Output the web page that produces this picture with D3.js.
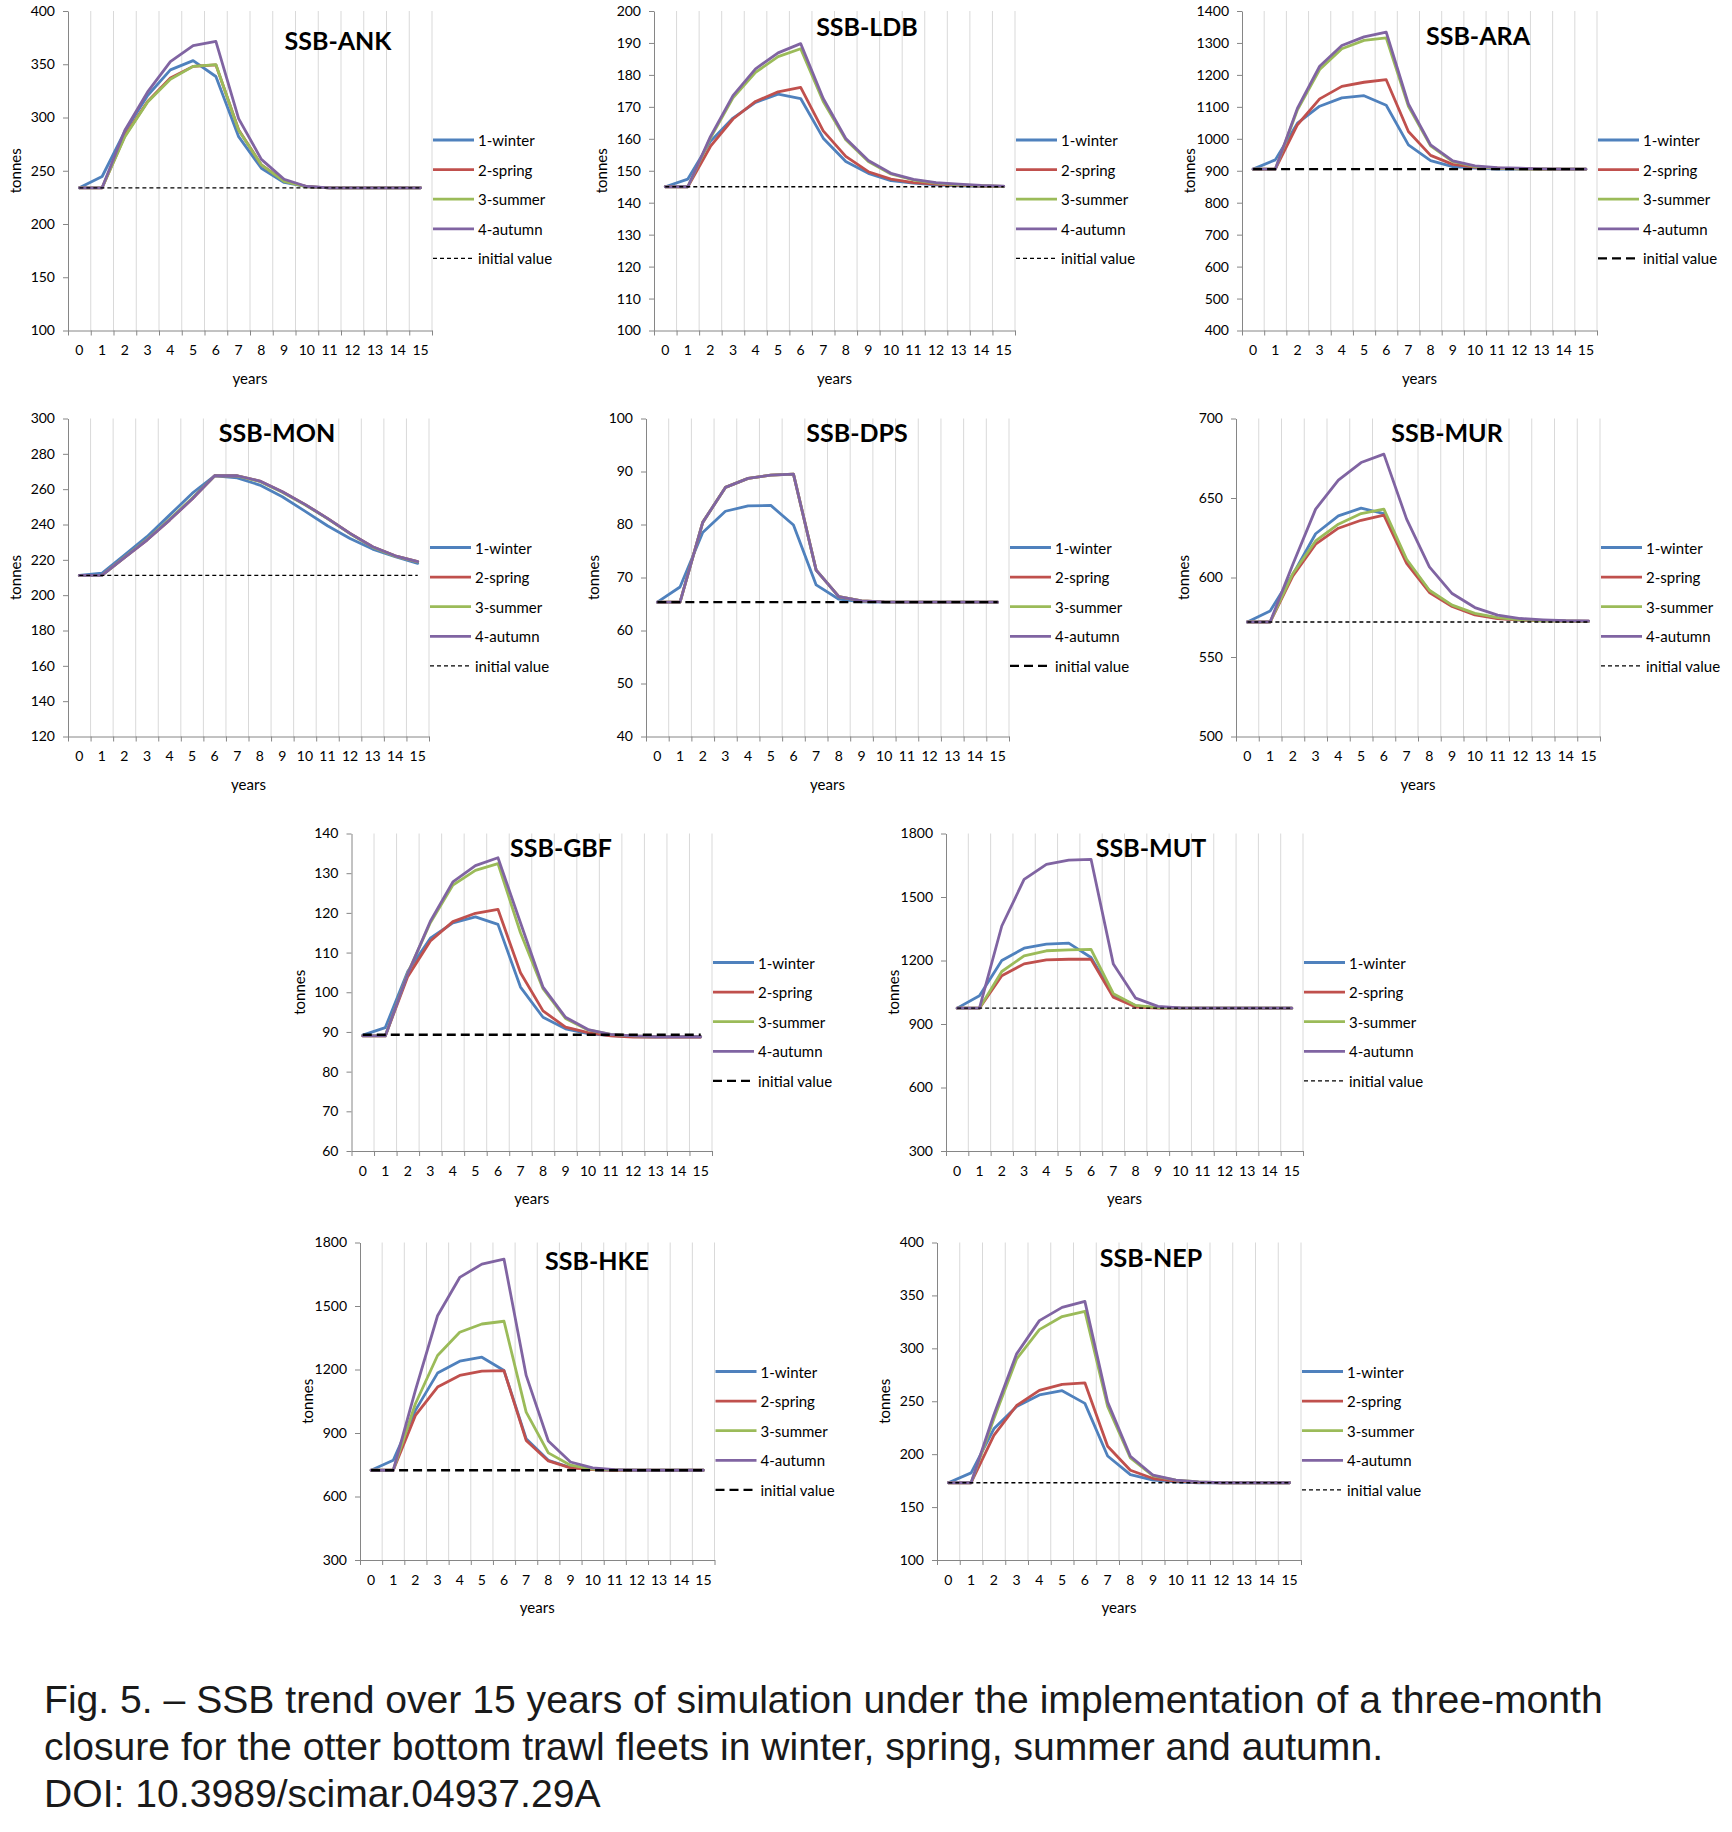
<!DOCTYPE html>
<html><head><meta charset="utf-8">
<script src="https://cdn.jsdelivr.net/npm/d3@7"></script>
<style>
body{margin:0;background:#fff;}
</style></head><body>
<svg id="chart" width="1732" height="1832" xmlns="http://www.w3.org/2000/svg"></svg>
<script>
// ---------------- DATA ----------------
const years = [0,1,2,3,4,5,6,7,8,9,10,11,12,13,14,15];
const seasons = ["1-winter","2-spring","3-summer","4-autumn"];
const initialLabel = "initial value";
const yLabel = "tonnes";
const xLabel = "years";
const captionLines = [
  "Fig. 5. \u2013 SSB trend over 15 years of simulation under the implementation of a three-month",
  "closure for the otter bottom trawl fleets in winter, spring, summer and autumn.",
  "DOI: 10.3989/scimar.04937.29A"
];

// SSB-ANK
const ANK_ticks = [100,150,200,250,300,350,400];
const ANK_initial = 234;
const ANK_series = [
  [234,244.6,287,320.7,344.7,353.4,338.5,282,252.3,239,235,234,234,234,234,234],
  [234,234,283,315,337,348,349.5,288.5,255.5,240.5,235,234,234,234,234,234],
  [234,234,282,314.5,336,348,349.7,288,255.5,240,234.8,234,234,234,234,234],
  [234,234,288,324,352.5,367.4,371.4,299,260.7,242,235.2,234,234,234,234,234]
];
// SSB-LDB
const LDB_ticks = [100,110,120,130,140,150,160,170,180,190,200];
const LDB_initial = 145;
const LDB_series = [
  [145,147.4,159.2,166.5,171.4,174,172.6,160.2,152.9,149.2,146.9,146.1,145.6,145.3,145.1,145],
  [145,145,157.6,166.2,171.7,174.7,176.1,162.5,154.5,149.7,147.4,146.3,145.8,145.4,145.2,145.1],
  [145,145,160.2,172.8,180.8,185.7,188.2,171.7,159.7,152.9,149,147.1,146.1,145.6,145.3,145.1],
  [145,145,160.7,173.5,181.9,186.9,189.8,172.6,160.1,153.2,149.2,147.3,146.3,145.8,145.4,145.2]
];
// SSB-ARA
const ARA_ticks = [400,500,600,700,800,900,1000,1100,1200,1300,1400];
const ARA_initial = 905;
const ARA_series = [
  [905,934,1049,1102,1128,1135,1105,981,932,913,908,905,905,905,905,905],
  [905,905,1044,1125,1164,1177,1185,1023,948,920,911,908,906,905,905,905],
  [905,905,1091,1217,1282,1308,1316,1102,978,929,913,908,906,905,905,905],
  [905,905,1096,1227,1292,1319,1334,1109,981,931,915,910,908,906,905,905]
];
// SSB-MON
const MON_ticks = [120,140,160,180,200,220,240,260,280,300];
const MON_initial = 211.2;
const MON_series = [
  [211.2,212.4,222.7,233.1,245.3,257.6,267.6,266.4,262.3,255.7,247.6,239.3,232.1,226.1,221.8,218],
  [211.2,211.2,221.2,231.2,242.5,254.4,267.6,267.6,264.6,258.5,251.4,243.5,235,227.4,222.3,219],
  [211.2,211.2,221.4,231.5,243,254.8,267.5,267.5,264.4,258.3,251.2,243.3,234.8,227.2,222.1,218.8],
  [211.2,211.2,221.2,231.2,242.5,254.4,267.6,267.6,264.6,258.5,251.4,243.5,235,227.4,222.3,219]
];
// SSB-DPS
const DPS_ticks = [40,50,60,70,80,90,100];
const DPS_initial = 65.35;
const DPS_series = [
  [65.35,68.2,78.5,82.5,83.5,83.6,79.9,68.6,65.9,65.4,65.35,65.35,65.35,65.35,65.35,65.35],
  [65.35,65.35,80.4,87.0,88.7,89.3,89.5,71.4,66.4,65.6,65.4,65.35,65.35,65.35,65.35,65.35],
  [65.35,65.35,80.4,87.0,88.7,89.3,89.5,71.4,66.4,65.6,65.4,65.35,65.35,65.35,65.35,65.35],
  [65.35,65.35,80.4,87.0,88.7,89.3,89.5,71.4,66.4,65.6,65.4,65.35,65.35,65.35,65.35,65.35]
];
// SSB-MUR
const MUR_ticks = [500,550,600,650,700];
const MUR_initial = 572;
const MUR_series = [
  [572,579,602,627.5,638.8,643.6,640.2,610.5,591.6,582.2,576.9,574.4,573.2,572.7,572.5,572.5],
  [572,572,601,621,631,636,639.2,608.8,590.6,581.8,576.5,574.2,573.2,572.7,572.5,572.5],
  [572,572,602.5,623,633.5,640.2,643,611.5,592,582.6,577.4,574.8,573.4,572.8,572.5,572.4],
  [572,572,608.4,643,661.2,672.3,677.6,636.7,606.7,589.9,581.1,576.3,574.2,573.4,572.8,572.6]
];
// SSB-GBF
const GBF_ticks = [60,70,80,90,100,110,120,130,140];
const GBF_initial = 89.3;
const GBF_series = [
  [89.2,91.1,105.3,113.6,117.5,119,117.1,101.3,93.7,90.8,89.6,89.1,88.8,88.7,88.7,88.7],
  [89,89,104,112.9,117.8,119.9,120.9,104.9,95.3,91.2,89.8,89,88.7,88.7,88.7,88.7],
  [89,89,104.9,117.5,127,130.7,132.4,115,100.9,93.4,90.5,89.4,89,88.8,88.8,88.8],
  [89,89,104.7,117.9,127.8,131.9,133.9,117.5,101.3,93.7,90.6,89.4,89,88.8,88.8,88.8]
];
// SSB-MUT
const MUT_ticks = [300,600,900,1200,1500,1800];
const MUT_initial = 975;
const MUT_series = [
  [975,1033,1200,1258,1277,1282,1214,1038,986,976,975,975,975,975,975,975],
  [975,975,1128,1184,1203,1206,1206,1026,980,975,975,975,975,975,975,975],
  [975,975,1148,1222,1246,1250,1253,1043,988,977,975,975,975,975,975,975],
  [975,975,1363,1583,1654,1674,1678,1183,1022,983,976,975,975,975,975,975]
];
// SSB-HKE
const HKE_ticks = [300,600,900,1200,1500,1800];
const HKE_initial = 724;
const HKE_series = [
  [724,771,1007,1183,1239,1258,1195,873,771,737,727,724,724,724,724,724],
  [724,724,983,1117,1172,1192,1195,865,768,735,727,724,724,724,724,724],
  [724,724,1038,1266,1376,1415,1428,999,806,748,729,726,724,724,724,724],
  [724,724,1101,1454,1635,1698,1721,1172,862,763,735,727,724,724,724,724]
];
// SSB-NEP
const NEP_ticks = [100,150,200,250,300,350,400];
const NEP_initial = 173;
const NEP_series = [
  [173,182.3,224,245,256,260,248,198.3,180.7,175.4,173.8,173,173,173,173,173],
  [173,173,217.8,246,260.2,265.9,267.4,207.4,184.8,177,174.5,173.4,173,173,173,173],
  [173,173,233.5,290,317.7,330,335,245,196.4,179.5,175.4,173.8,173,173,173,173],
  [173,173,237.3,294.8,326.2,338.7,344.4,249.2,198,180.1,175.4,173.8,173,173,173,173]
];

// table built from the named arrays
const table = {
  ANK:{title:"SSB-ANK",ticks:ANK_ticks,initial:ANK_initial,series:ANK_series},
  LDB:{title:"SSB-LDB",ticks:LDB_ticks,initial:LDB_initial,series:LDB_series},
  ARA:{title:"SSB-ARA",ticks:ARA_ticks,initial:ARA_initial,series:ARA_series},
  MON:{title:"SSB-MON",ticks:MON_ticks,initial:MON_initial,series:MON_series},
  DPS:{title:"SSB-DPS",ticks:DPS_ticks,initial:DPS_initial,series:DPS_series},
  MUR:{title:"SSB-MUR",ticks:MUR_ticks,initial:MUR_initial,series:MUR_series},
  GBF:{title:"SSB-GBF",ticks:GBF_ticks,initial:GBF_initial,series:GBF_series},
  MUT:{title:"SSB-MUT",ticks:MUT_ticks,initial:MUT_initial,series:MUT_series},
  HKE:{title:"SSB-HKE",ticks:HKE_ticks,initial:HKE_initial,series:HKE_series},
  NEP:{title:"SSB-NEP",ticks:NEP_ticks,initial:NEP_initial,series:NEP_series}
};

// ---------------- LAYOUT / STYLE ----------------
const colors = ["#4F81BD","#C0504D","#9BBB59","#8064A2"];
const dashStyles = {
  short:{dash:"4,3", width:1.3},
  long:{dash:"9,5", width:2.4}
};
const layout = [
  {key:"ANK", x0:68,  x1:432,  yT:11,    yB:330.5, tx:338,  ty:40,   dash:"short"},
  {key:"LDB", x0:654, x1:1015, yT:11,    yB:330.5, tx:867,  ty:26,   dash:"short"},
  {key:"ARA", x0:1242,x1:1597, yT:11,    yB:330.5, tx:1478, ty:35,   dash:"long"},
  {key:"MON", x0:68,  x1:429,  yT:418.5, yB:736.5, tx:277,  ty:432,  dash:"short"},
  {key:"DPS", x0:646, x1:1009, yT:418.5, yB:736.5, tx:857,  ty:432,  dash:"long"},
  {key:"MUR", x0:1236,x1:1600, yT:418.5, yB:736.5, tx:1447, ty:432,  dash:"short"},
  {key:"GBF", x0:351.5,x1:712, yT:833.5, yB:1151,  tx:561,  ty:847,  dash:"long"},
  {key:"MUT", x0:946, x1:1303, yT:833.5, yB:1151,  tx:1151, ty:847,  dash:"short"},
  {key:"HKE", x0:360, x1:714.5,yT:1242.5,yB:1560,  tx:597,  ty:1260, dash:"long"},
  {key:"NEP", x0:937, x1:1301, yT:1242.5,yB:1560,  tx:1151, ty:1257, dash:"short"}
];
const FONT = "Lato, 'Open Sans', 'DejaVu Sans', sans-serif";
const axisColor = "#868686";
const gridColor = "#D9D9D9";

const svg = d3.select("#chart");

layout.forEach(p => {
  const d = table[p.key];
  const g = svg.append("g");
  const x = d3.scaleBand().domain(years).range([p.x0, p.x1]).paddingInner(0).paddingOuter(0);
  const xb = d3.scaleLinear().domain([0, years.length]).range([p.x0, p.x1]);
  const y = d3.scaleLinear().domain(d3.extent(d.ticks)).range([p.yB, p.yT]);
  const cx = v => x(v) + x.bandwidth()/2;

  // vertical gridlines at category boundaries
  g.append("g").selectAll("line").data(years.map((v,i)=>i+1)).join("line")
    .attr("x1", i=>xb(i)).attr("x2", i=>xb(i))
    .attr("y1", p.yT).attr("y2", p.yB)
    .attr("stroke", gridColor).attr("stroke-width", 1);

  // y axis
  const ya = g.append("g").attr("transform", `translate(${p.x0},0)`)
    .call(d3.axisLeft(y).tickValues(d.ticks).tickSize(5).tickSizeOuter(0).tickPadding(8).tickFormat(d3.format("d")));
  ya.attr("font-family", FONT).attr("font-size", 14);
  ya.select(".domain").attr("stroke", axisColor);
  ya.selectAll(".tick line").attr("stroke", axisColor);
  ya.selectAll(".tick text").attr("fill", "#000");

  // x axis tick marks at boundaries
  const xt = g.append("g").attr("transform", `translate(0,${p.yB})`)
    .call(d3.axisBottom(xb).tickValues([0].concat(years.map((v,i)=>i+1))).tickSize(5).tickSizeOuter(0).tickFormat(""));
  xt.select(".domain").attr("stroke", axisColor);
  xt.selectAll(".tick line").attr("stroke", axisColor);

  // x axis labels at category centers
  const xl = g.append("g").attr("transform", `translate(0,${p.yB})`)
    .call(d3.axisBottom(x).tickSize(0).tickPadding(15));
  xl.attr("font-family", FONT).attr("font-size", 14);
  xl.select(".domain").remove();
  xl.selectAll(".tick text").attr("fill", "#000");

  // axis titles
  g.append("text").attr("x", (p.x0+p.x1)/2).attr("y", p.yB + 47)
    .attr("text-anchor","middle").attr("dominant-baseline","central")
    .attr("font-family", FONT).attr("font-size", 15).attr("fill","#000").text(xLabel);
  g.append("text")
    .attr("transform", `translate(${p.x0-53},${(p.yT+p.yB)/2}) rotate(-90)`)
    .attr("text-anchor","middle").attr("dominant-baseline","central")
    .attr("font-family", FONT).attr("font-size", 15).attr("fill","#000").text(yLabel);

  // series lines
  const line = d3.line().x((v,i)=>cx(years[i])).y(v=>y(v));
  d.series.forEach((vals, si) => {
    g.append("path").datum(vals).attr("d", line)
      .attr("fill","none").attr("stroke", colors[si]).attr("stroke-width", 2.8)
      .attr("stroke-linejoin","round").attr("stroke-linecap","round");
  });

  // initial value line
  const ds = dashStyles[p.dash];
  g.append("line")
    .attr("x1", cx(years[0])).attr("x2", cx(years[years.length-1]))
    .attr("y1", y(d.initial)).attr("y2", y(d.initial))
    .attr("stroke","#000").attr("stroke-width", ds.width).attr("stroke-dasharray", ds.dash);

  // title
  g.append("text").attr("x", p.tx).attr("y", p.ty)
    .attr("text-anchor","middle").attr("dominant-baseline","central")
    .attr("font-family", FONT).attr("font-weight","bold").attr("font-size", 25)
    .attr("fill","#000").text(d.title);

  // legend
  const legItems = seasons.map((s,i)=>({label:s, color:colors[i], dash:null, width:2.8}))
    .concat([{label:initialLabel, color:"#000", dash:ds.dash, width:ds.width}]);
  const lg = g.append("g");
  legItems.forEach((it, i) => {
    const ly = p.yT + 129 + i*29.6;
    lg.append("line").attr("x1", p.x1+1).attr("x2", p.x1+42).attr("y1", ly).attr("y2", ly)
      .attr("stroke", it.color).attr("stroke-width", it.width)
      .attr("stroke-dasharray", it.dash);
    lg.append("text").attr("x", p.x1+46).attr("y", ly)
      .attr("dominant-baseline","central")
      .attr("font-family", FONT).attr("font-size", 15).attr("fill","#000").text(it.label);
  });
});

// caption
const capG = svg.append("g");
const capTexts = captionLines.map((t,i) => capG.append("text")
  .attr("x", 44).attr("y", 1713 + i*47)
  .attr("font-family", "'Liberation Sans', Arial, Helvetica, sans-serif")
  .attr("font-size", 36).attr("fill", "#1a1a1a").text(t));
const w0 = capTexts[0].node().getComputedTextLength();
const fs = 36 * 1559 / w0;
capTexts.forEach(t => t.attr("font-size", fs));
</script>
</body></html>
